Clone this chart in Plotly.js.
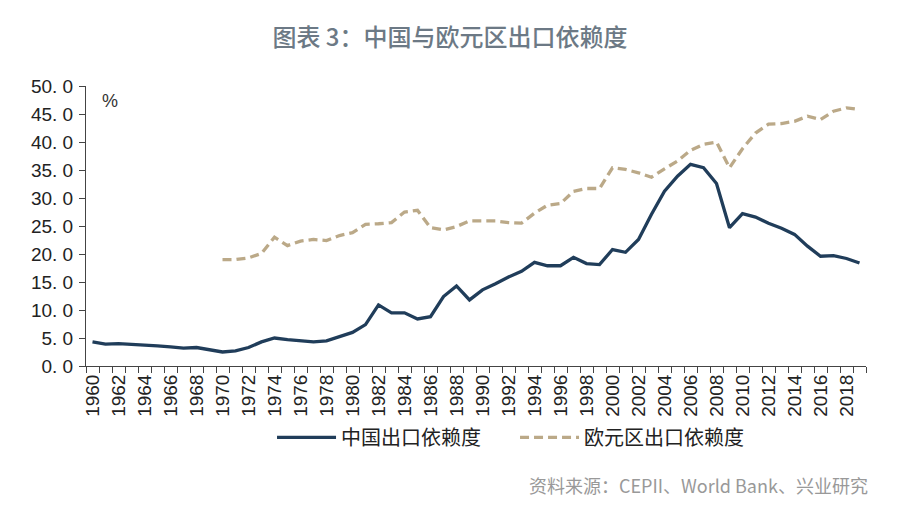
<!DOCTYPE html>
<html>
<head>
<meta charset="utf-8">
<script src="https://cdn.plot.ly/plotly-3.0.1.min.js"></script>
<style>
html,body{margin:0;padding:0;background:#fff;}
#chart{width:900px;height:517px;}
</style>
</head>
<body>
<div id="chart"></div>
<script>
// Years 1960-2019
const years = [];
for (let y = 1960; y <= 2019; y++) years.push(y);

// China export dependence (%), 1960-2019
const chinaValues = [
  4.3, 3.9, 4.0, 3.9, 3.7, 3.6, 3.4, 3.2, 3.3, 2.9,
  2.5, 2.7, 3.3, 4.3, 5.0, 4.7, 4.5, 4.3, 4.5, 5.2,
  6.0, 7.4, 10.9, 9.5, 9.5, 8.4, 8.8, 12.4, 14.3, 11.8,
  13.6, 14.7, 15.9, 16.9, 18.5, 17.9, 17.9, 19.4, 18.3, 18.1,
  20.8, 20.3, 22.6, 27.1, 31.2, 33.9, 36.0, 35.4, 32.6, 24.7,
  27.2, 26.6, 25.5, 24.6, 23.5, 21.4, 19.6, 19.7, 19.2, 18.4
];

// Euro area export dependence (%), 1970-2019 (null before 1970)
const euroValues = [
  null, null, null, null, null, null, null, null, null, null,
  19.0, 19.0, 19.3, 20.1, 23.0, 21.5, 22.3, 22.6, 22.4, 23.3,
  23.8, 25.3, 25.4, 25.6, 27.5, 27.8, 24.7, 24.3, 24.9, 25.9,
  25.9, 25.9, 25.6, 25.5, 27.3, 28.7, 29.0, 31.2, 31.7, 31.7,
  35.4, 35.1, 34.5, 33.7, 35.2, 36.6, 38.5, 39.6, 40.0, 35.4,
  38.8, 41.6, 43.2, 43.3, 43.7, 44.6, 44.0, 45.5, 46.1, 45.8
];

const seriesNames = ["中国出口依赖度", "欧元区出口依赖度"];
const xTickVals = years.filter(y => y % 2 === 0);
const xTickText = xTickVals.map(String);
const yTickVals = [0, 5, 10, 15, 20, 25, 30, 35, 40, 45, 50];
const yTickText = ["0. 0","5. 0","10. 0","15. 0","20. 0","25. 0","30. 0","35. 0","40. 0","45. 0","50. 0"];

const traces = [
  {
    x: years, y: chinaValues, name: seriesNames[0], type: "scatter", mode: "lines",
    line: {color: "#203d5a", width: 3.3}
  },
  {
    x: years, y: euroValues, name: seriesNames[1], type: "scatter", mode: "lines",
    line: {color: "#bba988", width: 3.3, dash: "9px,5px"}
  }
];

const layout = {
  width: 900, height: 517,
  paper_bgcolor: "#fff", plot_bgcolor: "#fff",
  margin: {l: 86, r: 34, t: 86, b: 151},
  font: {family: "Liberation Sans, Arial, sans-serif", color: "#222"},
  title: {
    text: "图表 3：中国与欧元区出口依赖度",
    font: {family: "Noto Sans CJK SC, sans-serif", size: 24, color: "#6c7985", weight: 500},
    x: 0.5, xanchor: "center", y: 0.927, yanchor: "middle"
  },
  xaxis: {
    range: [1959.5, 2019.5],
    tickmode: "array", tickvals: xTickVals, ticktext: xTickText,
    tickangle: -90, ticks: "",
    tickfont: {size: 19, color: "#222"},
    showline: true, linecolor: "#444", linewidth: 1,
    showgrid: false, zeroline: false,
    minor: {ticks: "outside", tick0: 1959.5, dtick: 1, ticklen: 6, tickcolor: "#444", tickwidth: 1, showgrid: false}
  },
  yaxis: {
    range: [0, 50],
    tickmode: "array", tickvals: yTickVals, ticktext: yTickText,
    ticks: "outside", ticklen: 6, tickcolor: "#444",
    tickfont: {size: 19, color: "#222"},
    ticklabelstandoff: 2,
    showline: true, linecolor: "#444", linewidth: 1,
    showgrid: false, zeroline: false
  },
  showlegend: true,
  legend: {
    orientation: "h", x: 0.2385, xanchor: "left", y: -0.255, yanchor: "middle",
    font: {family: "Noto Sans CJK SC, sans-serif", size: 20, color: "#222"},
    itemwidth: 59, entrywidth: 169, entrywidthmode: "pixels",
    tracegroupgap: 0, bgcolor: "rgba(0,0,0,0)"
  },
  annotations: [
    {text: "%", xref: "paper", yref: "paper", x: 0.018, y: 0.945, xanchor: "left", yanchor: "middle",
     showarrow: false, font: {size: 18, color: "#333"}},
    {text: "资料来源：CEPII、World Bank、兴业研究", xref: "paper", yref: "paper", x: 1.005, y: -0.425,
     xanchor: "right", yanchor: "middle", showarrow: false,
     font: {family: "Noto Sans CJK SC, sans-serif", size: 18, color: "#999"}}
  ]
};

Plotly.newPlot("chart", traces, layout, {displayModeBar: false, staticPlot: true});
</script>
</body>
</html>
